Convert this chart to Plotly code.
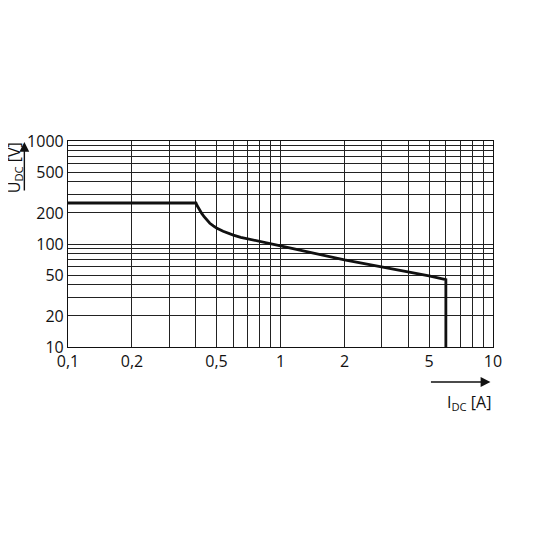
import plotly.graph_objects as go

# Curve data
current_a = [0.1, 0.400, 0.405, 0.410, 0.418, 0.426, 0.437, 0.449, 0.465, 0.483, 0.5,
             0.537, 0.565, 0.6, 0.65, 0.7, 0.8, 0.9, 1.0, 2.0, 3.0, 5.0, 6.0, 6.0]
voltage_v = [250, 250, 236, 225, 210, 198, 184, 171, 159, 150, 143,
             133, 127, 122, 116, 112, 105, 100, 96, 70, 60, 49, 45, 10]

# Grid / tick definitions
x_grid_vals = [0.1, 0.2, 0.3, 0.4, 0.5, 0.6, 0.7, 0.8, 0.9, 1, 2, 3, 4, 5, 6, 7, 8, 9, 10]
x_labeled = {0.1: "0,1", 0.2: "0,2", 0.5: "0,5", 1: "1", 2: "2", 5: "5", 10: "10"}
y_grid_vals = [10, 20, 30, 40, 50, 60, 70, 80, 90, 100, 200, 300, 400, 500, 600, 700, 800, 900, 1000]
y_labeled = {10: "10", 20: "20", 50: "50", 100: "100", 200: "200", 500: "500", 1000: "1000"}

x_tick_text = [x_labeled.get(v, "") for v in x_grid_vals]
y_tick_text = [y_labeled.get(v, "") for v in y_grid_vals]

fig = go.Figure()
fig.add_trace(go.Scatter(
    x=current_a, y=voltage_v, mode="lines",
    line=dict(color="#111111", width=2.8),
    hoverinfo="skip", showlegend=False,
))

axis_common = dict(
    type="log", showgrid=True, gridcolor="#222222", gridwidth=1,
    showline=True, linecolor="#111111", linewidth=1.2, mirror=True,
    ticks="", zeroline=False,
    tickfont=dict(family="Open Sans", size=16, color="#111111"),
)

fig.update_layout(
    width=540, height=540, autosize=False,
    margin=dict(l=60, r=55, t=133, b=201),
    paper_bgcolor="white", plot_bgcolor="white",
    font=dict(family="Open Sans", color="#111111"),
    xaxis=dict(axis_common, range=[-1, 1], tickmode="array",
               tickvals=x_grid_vals, ticktext=x_tick_text),
    yaxis=dict(axis_common, range=[1, 3], tickmode="array",
               tickvals=y_grid_vals, ticktext=y_tick_text),
    annotations=[
        # Y-axis arrow
        dict(xref="paper", yref="paper", x=-0.1027, y=0.995, ax=0, ay=50,
             showarrow=True, arrowhead=2, arrowsize=1.4, arrowwidth=1.4,
             arrowcolor="#111111", text=""),
        # Y-axis title
        dict(xref="paper", yref="paper", x=-0.126, y=0.87, xanchor="center", yanchor="middle",
             showarrow=False, textangle=-90, text="U<sub>DC</sub> [V]",
             font=dict(family="Open Sans", size=16, color="#111111")),
        # X-axis arrow
        dict(xref="paper", yref="paper", x=0.994, y=-0.170, ax=-61, ay=0,
             showarrow=True, arrowhead=2, arrowsize=1.4, arrowwidth=1.4,
             arrowcolor="#111111", text=""),
        # X-axis title
        dict(xref="paper", yref="paper", x=0.943, y=-0.269, xanchor="center", yanchor="middle",
             showarrow=False, text="I<sub>DC</sub> [A]",
             font=dict(family="Open Sans", size=16, color="#111111")),
    ],
)

fig.write_html("out.html")
